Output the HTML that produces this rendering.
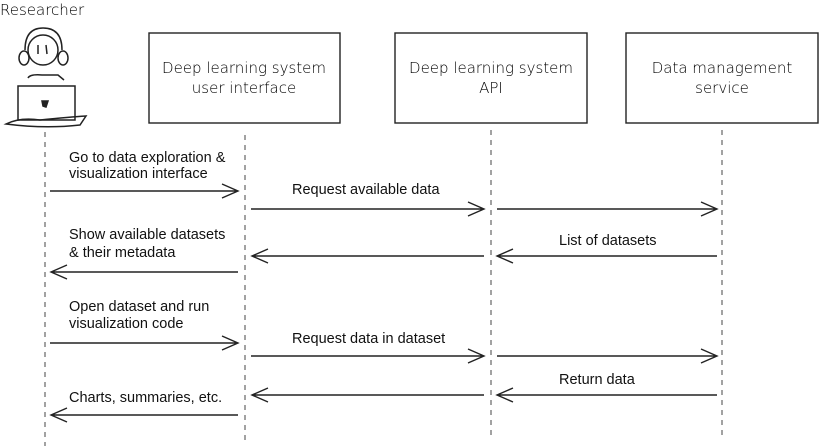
<!DOCTYPE html>
<html><head><style>
body{margin:0;background:#fff;width:821px;height:446px;overflow:hidden}
svg{display:block}
.t{font-family:"Liberation Sans",sans-serif;font-size:14.5px;fill:#111}
.h{font-family:"DejaVu Sans",sans-serif;font-size:15px;fill:#000;font-weight:300}
</style></head><body>
<svg width="821" height="446" viewBox="0 0 821 446">
<g fill="none" stroke="#222" stroke-width="1.4">
<rect x="149" y="33" width="191" height="90"/>
<rect x="395" y="33" width="192" height="90"/>
<rect x="626" y="33" width="192" height="90"/>
</g>
<text class="h" x="244" y="73" text-anchor="middle">Deep learning system</text>
<text class="h" x="244" y="93" text-anchor="middle">user interface</text>
<text class="h" x="491" y="73" text-anchor="middle">Deep learning system</text>
<text class="h" x="491" y="93" text-anchor="middle">API</text>
<text class="h" x="722" y="73" text-anchor="middle">Data management</text>
<text class="h" x="722" y="93" text-anchor="middle">service</text>
<text class="h" x="0" y="15">Researcher</text>
<g fill="none" stroke="#222" stroke-width="1.5">
<circle cx="43" cy="50" r="15"/>
<path d="M25 50 Q25 28 43 28 Q62 28 62 50"/>
<ellipse cx="24" cy="58" rx="5" ry="7"/>
<ellipse cx="63" cy="58" rx="5" ry="7"/>
<path d="M38 45 L38 54 M46 45 L47 54"/>
<path d="M28 78 Q30 74 42 75 L58 75 L64 80"/>
<rect x="18" y="86" width="57" height="34"/>
<path d="M6 124 Q20 117 40 120 Q70 117 86 116 L80 125 Q45 129 6 124 Z"/>
<path d="M42 101 L48 101 L46 107 L43 106 Z" fill="#222"/>
</g>
<g stroke="#444" stroke-width="1" stroke-dasharray="5,5">
<line x1="45" y1="132" x2="45" y2="446"/>
<line x1="245" y1="135" x2="245" y2="440"/>
<line x1="491" y1="130" x2="491" y2="440"/>
<line x1="722" y1="130" x2="722" y2="440"/>
</g>
<g fill="none" stroke="#222" stroke-width="1.4">
<path d="M50 191 L238 191 M222 184 L238 191 L222 198"/>
<path d="M251 209 L484 209 M468 202 L484 209 L468 216"/>
<path d="M497 209 L717 209 M701 202 L717 209 L701 216"/>
<path d="M717 256 L497 256 M513 249 L497 256 L513 263"/>
<path d="M484 256 L252 256 M268 249 L252 256 L268 263"/>
<path d="M238 272 L51 272 M67 265 L51 272 L67 279"/>
<path d="M50 343 L238 343 M222 336 L238 343 L222 350"/>
<path d="M251 356 L484 356 M468 349 L484 356 L468 363"/>
<path d="M497 356 L717 356 M701 349 L717 356 L701 363"/>
<path d="M717 395 L497 395 M513 388 L497 395 L513 402"/>
<path d="M484 395 L252 395 M268 388 L252 395 L268 402"/>
<path d="M238 415 L51 415 M67 408 L51 415 L67 422"/>
</g>
<text class="t" x="69" y="162">Go to data exploration &amp;</text>
<text class="t" x="69" y="178">visualization interface</text>
<text class="t" x="292" y="194">Request available data</text>
<text class="t" x="69" y="239">Show available datasets</text>
<text class="t" x="69" y="257">&amp; their metadata</text>
<text class="t" x="559" y="245">List of datasets</text>
<text class="t" x="69" y="311">Open dataset and run</text>
<text class="t" x="69" y="328">visualization code</text>
<text class="t" x="292" y="343">Request data in dataset</text>
<text class="t" x="559" y="384">Return data</text>
<text class="t" x="69" y="402">Charts, summaries, etc.</text>
</svg>
</body></html>
